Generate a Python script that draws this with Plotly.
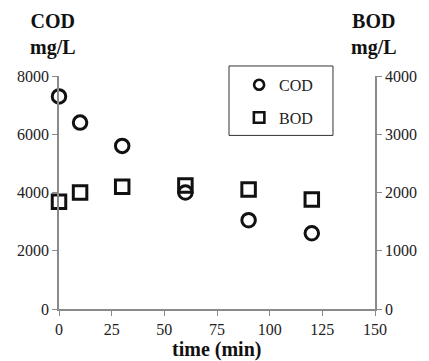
import plotly.graph_objects as go

# Sampling times (min) and measured concentrations (mg/L)
time_min = [0, 10, 30, 60, 90, 120]
cod_mg_l = [7300, 6400, 5600, 4000, 3050, 2600]
bod_mg_l = [1840, 2000, 2100, 2120, 2050, 1880]

x_ticks = [0, 25, 50, 75, 100, 125, 150]
cod_ticks = [0, 2000, 4000, 6000, 8000]
bod_ticks = [0, 1000, 2000, 3000, 4000]

SERIF = "Times New Roman, Liberation Serif, serif"
AXIS_GREY = "#8a8a8a"
INK = "#111111"


def open_marker(symbol, size, width):
    return dict(symbol=symbol, size=size, color=INK,
                line=dict(width=width, color=INK))


fig = go.Figure()

# Measured series (plotted markers)
fig.add_trace(go.Scatter(
    x=time_min, y=cod_mg_l, name="COD", mode="markers",
    marker=open_marker("circle-open", 13.5, 3),
    cliponaxis=False, showlegend=False,
))
fig.add_trace(go.Scatter(
    x=time_min, y=bod_mg_l, name="BOD", mode="markers", yaxis="y2",
    marker=open_marker("square-open", 13.5, 3),
    cliponaxis=False, showlegend=False,
))

# Legend keys drawn with slightly smaller symbols
fig.add_trace(go.Scatter(
    x=[None], y=[None], name="COD", mode="markers",
    marker=open_marker("circle-open", 10, 2.6), legendgroup="cod",
))
fig.add_trace(go.Scatter(
    x=[None], y=[None], name="BOD", mode="markers", yaxis="y2",
    marker=open_marker("square-open", 10.5, 2.6), legendgroup="bod",
))

tick_font = dict(family=SERIF, size=16, color="#222")
axis_common = dict(
    showgrid=False, zeroline=False, showline=True, linecolor=AXIS_GREY,
    linewidth=1.5, ticks="outside", ticklen=5, tickwidth=1.2,
    tickcolor=AXIS_GREY, tickfont=tick_font,
)

fig.update_layout(
    width=429, height=361,
    margin=dict(l=59, r=46, t=76, b=52),
    paper_bgcolor="white", plot_bgcolor="white",
    font=dict(family=SERIF, size=16, color="#222"),
    xaxis=dict(range=[0, 150], tickvals=x_ticks, **axis_common),
    yaxis=dict(range=[0, 8000], tickvals=cod_ticks, **axis_common),
    yaxis2=dict(range=[0, 4000], tickvals=bod_ticks, overlaying="y",
                side="right", **axis_common),
    showlegend=True,
    legend=dict(
        x=0.57, y=1.035, xanchor="left", yanchor="top",
        bgcolor="rgba(0,0,0,0)", borderwidth=0,
        font=dict(family=SERIF, size=16, color="#222"),
        tracegroupgap=9, traceorder="grouped",
    ),
)

# Legend frame
fig.add_shape(type="rect", xref="paper", yref="paper",
              x0=0.538, x1=0.867, y0=0.745, y1=1.043,
              line=dict(color="#333", width=1))

# Axis titles
title_font = dict(family=SERIF, size=20, color="#111")
fig.add_annotation(text="<b>COD<br>mg/L</b>", xref="paper", yref="paper",
                   x=-0.02, y=1.29, xanchor="center", yanchor="top",
                   showarrow=False, font=title_font, align="center")
fig.add_annotation(text="<b>BOD<br>mg/L</b>", xref="paper", yref="paper",
                   x=0.998, y=1.29, xanchor="center", yanchor="top",
                   showarrow=False, font=title_font, align="center")
fig.add_annotation(text="<b>time (min)</b>", xref="paper", yref="paper",
                   x=0.497, y=-0.118, xanchor="center", yanchor="top",
                   showarrow=False, font=title_font)

fig.write_html("out.html")
